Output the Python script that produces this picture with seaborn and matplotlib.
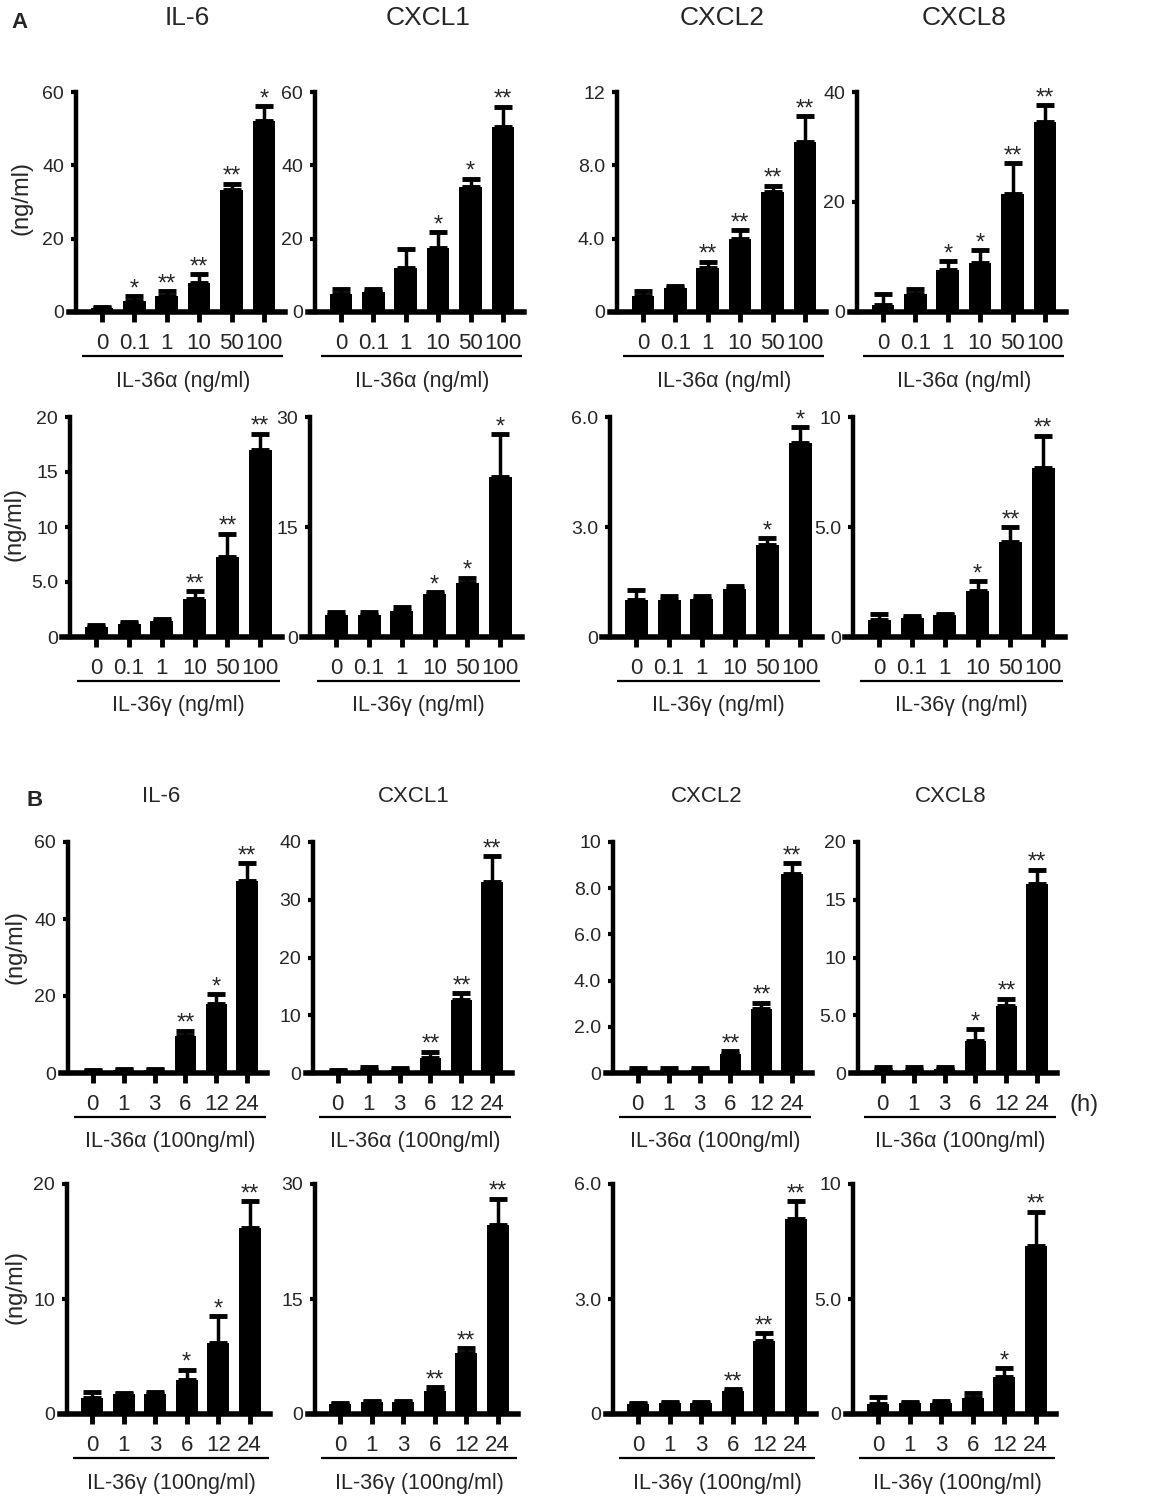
import matplotlib
matplotlib.use('Agg')
import matplotlib.pyplot as plt
import matplotlib.transforms as mtransforms
from matplotlib import font_manager
import seaborn as sns
import numpy as np
import pandas as pd

sns.set_theme(style='white')
avail = {f.name for f in font_manager.fontManager.ttflist}
NARROW = 'Liberation Sans Narrow' if 'Liberation Sans Narrow' in avail else 'Liberation Sans'
plt.rcParams['font.family'] = ['Liberation Sans', 'DejaVu Sans']

# ---------------- data ----------------
cytokines = ['IL-6', 'CXCL1', 'CXCL2', 'CXCL8']
dose_labels = ['0', '0.1', '1', '10', '50', '100']
time_labels = ['0', '1', '3', '6', '12', '24']
row_xlabels = ['IL-36α (ng/ml)', 'IL-36γ (ng/ml)', 'IL-36α (100ng/ml)', 'IL-36γ (100ng/ml)']

# Row 1: IL-36α dose response
r1_mean = [[1.0, 3.0, 4.5, 8.0, 33.2, 52.0],
           [5.0, 5.4, 12.0, 17.5, 34.2, 50.5],
           [0.9, 1.3, 2.4, 4.0, 6.55, 9.3],
           [1.2, 3.2, 7.7, 9.0, 21.5, 34.5]]
r1_err = [[0.3, 1.3, 1.3, 2.3, 1.8, 4.2],
          [1.3, 0.9, 5.2, 4.2, 2.2, 5.5],
          [0.25, 0.12, 0.35, 0.45, 0.35, 1.4],
          [2.0, 1.0, 1.6, 2.2, 5.6, 3.1]]
r1_sig = [['', '*', '**', '**', '**', '*'],
          ['', '', '', '*', '*', '**'],
          ['', '', '**', '**', '**', '**'],
          ['', '', '*', '*', '**', '**']]

# Row 2: IL-36γ dose response
r2_mean = [[0.95, 1.2, 1.5, 3.5, 7.3, 17.0],
           [3.0, 3.0, 3.6, 5.8, 7.3, 21.8],
           [1.0, 1.0, 1.05, 1.3, 2.5, 5.3],
           [0.77, 0.85, 1.0, 2.1, 4.3, 7.7]]
r2_err = [[0.15, 0.12, 0.15, 0.65, 2.1, 1.5],
          [0.4, 0.35, 0.45, 0.35, 0.8, 5.9],
          [0.27, 0.12, 0.08, 0.1, 0.2, 0.42],
          [0.28, 0.12, 0.06, 0.45, 0.7, 1.45]]
r2_sig = [['', '', '', '**', '**', '**'],
          ['', '', '', '*', '*', '*'],
          ['', '', '', '', '*', '*'],
          ['', '', '', '*', '**', '**']]

# Row 3: IL-36α (100 ng/ml) time course
r3_mean = [[0.5, 0.7, 0.8, 9.7, 17.9, 50.0],
           [0.4, 0.6, 0.5, 2.6, 12.6, 33.0],
           [0.1, 0.1, 0.12, 0.83, 2.75, 8.6],
           [0.3, 0.3, 0.35, 2.75, 5.8, 16.4]]
r3_err = [[0.2, 0.3, 0.3, 1.3, 2.6, 4.5],
          [0.2, 0.4, 0.4, 1.1, 1.3, 4.6],
          [0.1, 0.1, 0.08, 0.13, 0.3, 0.5],
          [0.2, 0.2, 0.15, 1.05, 0.65, 1.2]]
r3_sig = [['', '', '', '**', '*', '**'],
          ['', '', '', '**', '**', '**'],
          ['', '', '', '**', '**', '**'],
          ['', '', '', '*', '**', '**']]

# Row 4: IL-36γ (100 ng/ml) time course
r4_mean = [[1.4, 1.7, 1.7, 3.0, 6.2, 16.2],
           [1.3, 1.6, 1.6, 3.0, 7.9, 24.7],
           [0.26, 0.3, 0.3, 0.6, 1.9, 5.1],
           [0.45, 0.5, 0.5, 0.7, 1.6, 7.3]]
r4_err = [[0.5, 0.1, 0.2, 0.85, 2.3, 2.3],
          [0.15, 0.05, 0.05, 0.55, 0.7, 3.4],
          [0.04, 0.02, 0.02, 0.05, 0.22, 0.45],
          [0.3, 0.03, 0.05, 0.2, 0.4, 1.5]]
r4_sig = [['', '', '', '*', '*', '**'],
          ['', '', '', '**', '**', '**'],
          ['', '', '', '**', '**', '**'],
          ['', '', '', '', '*', '**']]

# y-axis ticks per panel
r1_yticks = [[0, 20, 40, 60], [0, 20, 40, 60], [0, 4, 8, 12], [0, 20, 40]]
r1_ylabels = [['0', '20', '40', '60'], ['0', '20', '40', '60'], ['0', '4.0', '8.0', '12'], ['0', '20', '40']]
r2_yticks = [[0, 5, 10, 15, 20], [0, 15, 30], [0, 3, 6], [0, 5, 10]]
r2_ylabels = [['0', '5.0', '10', '15', '20'], ['0', '15', '30'], ['0', '3.0', '6.0'], ['0', '5.0', '10']]
r3_yticks = [[0, 20, 40, 60], [0, 10, 20, 30, 40], [0, 2, 4, 6, 8, 10], [0, 5, 10, 15, 20]]
r3_ylabels = [['0', '20', '40', '60'], ['0', '10', '20', '30', '40'],
              ['0', '2.0', '4.0', '6.0', '8.0', '10'], ['0', '5.0', '10', '15', '20']]
r4_yticks = [[0, 10, 20], [0, 15, 30], [0, 3, 6], [0, 5, 10]]
r4_ylabels = [['0', '10', '20'], ['0', '15', '30'], ['0', '3.0', '6.0'], ['0', '5.0', '10']]

rows = [
    (r1_mean, r1_err, r1_sig, r1_yticks, r1_ylabels, dose_labels),
    (r2_mean, r2_err, r2_sig, r2_yticks, r2_ylabels, dose_labels),
    (r3_mean, r3_err, r3_sig, r3_yticks, r3_ylabels, time_labels),
    (r4_mean, r4_err, r4_sig, r4_yticks, r4_ylabels, time_labels),
]

# ---------------- layout (pixels) ----------------
W, H = 1158, 1499
row_zero = [312, 637, 1073, 1414]
row_top = [92, 417, 842, 1184]
row_sp = [32.4, 32.8, 30.9, 31.5]
row_spines = [[76, 315, 617, 857], [70, 310, 610, 853], [68, 313, 613, 858], [67, 315, 613, 853]]
ylab_pos = [(22, 198), (15, 524), (16, 947), (16, 1287)]
titleA = [(187, 18), (428, 18), (722, 18), (964, 18)]
titleB = [(161, 797), (414, 797), (707, 797), (951, 797)]

fig = plt.figure(figsize=(W / 100, H / 100), dpi=100)
fig.patch.set_facecolor('white')

for r, (means, errs, sigs, yticks, ylabels, xlabels) in enumerate(rows):
    zero, top, sp = row_zero[r], row_top[r], row_sp[r]
    for c in range(4):
        spine = row_spines[r][c]
        left_px = spine - 0.23 * sp
        width_px = 6.68 * sp
        ax = fig.add_axes([left_px / W, (H - zero) / H, width_px / W, (zero - top) / H])
        df = pd.DataFrame({'cond': xlabels, 'val': means[c]})
        sns.barplot(data=df, x='cond', y='val', order=xlabels, color='black', saturation=1,
                    width=0.7, errorbar=None, linewidth=0, ax=ax)
        xs = np.arange(len(xlabels))
        ax.errorbar(xs, means[c], yerr=[np.zeros(len(xs)), errs[c]], fmt='none',
                    ecolor='black', elinewidth=2.5, capsize=6.5, capthick=3.5, zorder=3)
        ymax = yticks[c][-1]
        ax.set_xlim(-1.03, 5.65)
        ax.set_ylim(0, ymax)
        ax.set_xlabel('')
        ax.set_ylabel('')
        ax.set_yticks(yticks[c])
        ax.set_yticklabels(ylabels[c])
        ax.set_xticks(xs)
        ax.set_xticklabels(xlabels)
        for s in ['top', 'right']:
            ax.spines[s].set_visible(False)
        ax.spines['left'].set_position(('data', -0.8))
        ax.spines['left'].set_linewidth(3.2)
        ax.spines['left'].set_color('black')
        ax.spines['bottom'].set_linewidth(4)
        ax.spines['bottom'].set_color('black')
        ax.spines['bottom'].set_zorder(4)
        ax.patch.set_alpha(0)
        ax.tick_params(axis='x', direction='out', length=7, width=3.5, color='black',
                       pad=8, labelsize=16, labelfontfamily=NARROW, bottom=True)
        ax.tick_params(axis='y', direction='out', length=3.5, width=3, color='black',
                       pad=5, labelsize=14, left=True)
        for i, s in enumerate(sigs[c]):
            if s:
                ax.annotate(s, (i, means[c][i] + errs[c][i]), xytext=(0, 0.5),
                            textcoords='offset points', ha='center', va='baseline',
                            fontsize=17, annotation_clip=False)
        tr_line = mtransforms.offset_copy(ax.get_xaxis_transform(), fig=fig, x=0, y=-44, units='dots')
        ax.plot([-0.6, 5.6], [0, 0], transform=tr_line, color='black', lw=1.6,
                clip_on=False, solid_capstyle='butt')
        tr_lab = mtransforms.offset_copy(ax.get_xaxis_transform(), fig=fig, x=0, y=-69, units='dots')
        ax.text(2.5, 0, row_xlabels[r], transform=tr_lab, ha='center', va='center', fontsize=15.5)
    fig.text(ylab_pos[r][0] / W, 1 - ylab_pos[r][1] / H, '(ng/ml)', rotation=90,
             ha='center', va='center', fontsize=17)

for c in range(4):
    fig.text(titleA[c][0] / W, 1 - titleA[c][1] / H, cytokines[c], ha='center', va='center', fontsize=19)
    fig.text(titleB[c][0] / W, 1 - titleB[c][1] / H, cytokines[c], ha='center', va='center', fontsize=16)

fig.text(20 / W, 1 - 22 / H, 'A', ha='center', va='center', fontsize=16, fontweight='bold')
fig.text(35 / W, 1 - 800 / H, 'B', ha='center', va='center', fontsize=16, fontweight='bold')
fig.text(1084 / W, 1 - 1105 / H, '(h)', ha='center', va='center', fontsize=17, family=NARROW)

fig.savefig('out.png', dpi=100, facecolor='white')
